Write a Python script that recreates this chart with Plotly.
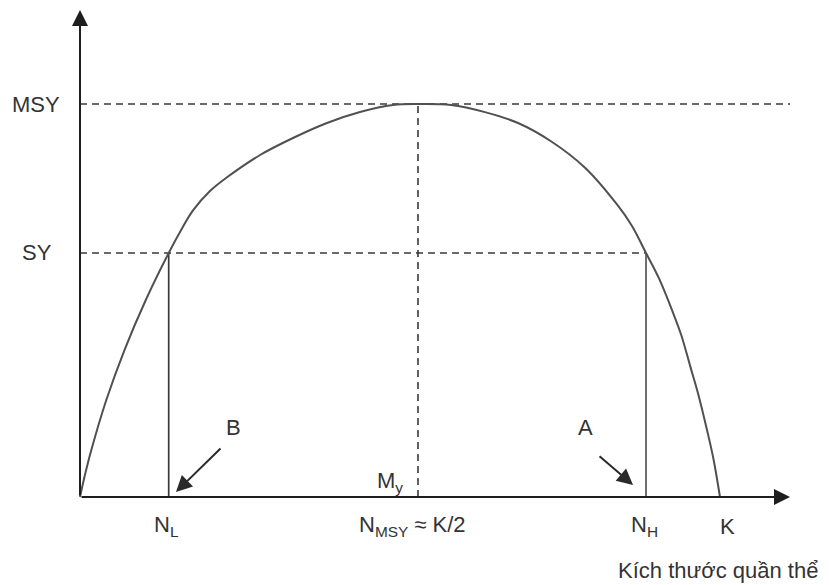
import plotly.graph_objects as go

# Curve (population size vs sustainable yield, K = 100, MSY = 100)
pop_size = [0, 0.77, 1.77, 4.11, 6.95, 10.28, 13.86, 15.78, 17.66, 20.31, 22.97, 28.13, 33.28,
            38.59, 43.75, 48.91, 52.81, 57.97, 63.28, 68.44, 73.59, 78.91, 84.06, 86.25,
            88.44, 90.47, 92.66, 93.98, 95.31, 96.64, 97.97, 98.98, 100]
yield_vals = [0, 5.60, 11.96, 24.68, 37.40, 50.13, 62.09, 67.89, 72.93, 77.86, 81.35, 87.02, 91.35,
              95.17, 97.96, 99.75, 100, 99.75, 97.94, 95.17, 90.53, 83.79, 74.12, 68.96,
              62.09, 55.62, 46.90, 41.04, 33.49, 25.90, 17.05, 9.67, 0]

N_L = 13.86
N_MSY = 52.81
N_H = 88.44
K = 100
MSY = 100
SY = 62.09

x_labels = ["N<sub>L</sub>", "N<sub>MSY</sub> ≈ K/2", "N<sub>H</sub>", "K"]
x_label_pos = [13.44, 51.88, 88.13, 101.1]
y_labels = ["MSY", "SY"]
y_label_pos = [MSY, SY]
x_title = "Kích thước quần thể"

X_MAX = 110.94
Y_MAX = 123.9

# page body has an 8px margin: figure occupies screen px 8..829 / 8..585
W, H = 821, 577
SX, SY_ = 6.4, 3.93
XR = [(8 - 80) / SX, (829 - 80) / SX]
YR = [(497 - 585) / SY_, (497 - 8) / SY_]

FONT = dict(family="Liberation Sans, Arial, sans-serif", size=22, color="#333333")
DASH = "7px,5px"
DCOL = "#3a3a3a"

fig = go.Figure()

# dashed guide lines
fig.add_trace(go.Scatter(x=[0, X_MAX], y=[MSY, MSY], mode="lines",
                         line=dict(color=DCOL, width=1.6, dash=DASH), hoverinfo="skip"))
fig.add_trace(go.Scatter(x=[0, N_H], y=[SY, SY], mode="lines",
                         line=dict(color=DCOL, width=1.6, dash=DASH), hoverinfo="skip"))
fig.add_trace(go.Scatter(x=[N_MSY, N_MSY], y=[0, MSY], mode="lines",
                         line=dict(color=DCOL, width=1.6, dash=DASH), hoverinfo="skip"))
# solid verticals
fig.add_trace(go.Scatter(x=[N_L, N_L], y=[0, SY], mode="lines",
                         line=dict(color="#3a3a3a", width=1.7), hoverinfo="skip"))
fig.add_trace(go.Scatter(x=[N_H, N_H], y=[0, SY], mode="lines",
                         line=dict(color="#555555", width=1.7), hoverinfo="skip"))
# yield curve
fig.add_trace(go.Scatter(x=pop_size, y=yield_vals, mode="lines",
                         line=dict(color="#505050", width=2, shape="spline", smoothing=1.0),
                         hoverinfo="skip"))

ann = []
# axes with arrows
ann.append(dict(x=X_MAX, y=0, ax=0, ay=0, xref="x", yref="y", axref="x", ayref="y",
                text="", showarrow=True, arrowhead=2, arrowsize=1.6, arrowwidth=2,
                arrowcolor="#1e1e1e"))
ann.append(dict(x=0, y=Y_MAX, ax=0, ay=0, xref="x", yref="y", axref="x", ayref="y",
                text="", showarrow=True, arrowhead=2, arrowsize=1.6, arrowwidth=2,
                arrowcolor="#1e1e1e"))
# B and A arrows
ann.append(dict(x=15.0, y=1.27, ax=22.19, ay=12.72, xref="x", yref="y", axref="x", ayref="y",
                text="", showarrow=True, arrowhead=2, arrowsize=1.6, arrowwidth=2,
                arrowcolor="#2a2a2a"))
ann.append(dict(x=86.41, y=3.05, ax=80.94, ay=10.69, xref="x", yref="y", axref="x", ayref="y",
                text="", showarrow=True, arrowhead=2, arrowsize=1.6, arrowwidth=2,
                arrowcolor="#2a2a2a"))
ann.append(dict(x=24.06, y=17.6, text="B", showarrow=False, font=FONT, xanchor="center", yanchor="middle"))
ann.append(dict(x=79.06, y=17.6, text="A", showarrow=False, font=FONT, xanchor="center", yanchor="middle"))
ann.append(dict(x=50.78, y=3.8, text="M<sub>y</sub>", showarrow=False, font=FONT,
                xanchor="right", yanchor="middle"))

ann.append(dict(x=-11.0, y=MSY, text=y_labels[0], showarrow=False, font=FONT,
                xanchor="left", yanchor="middle"))
ann.append(dict(x=-4.06, y=SY, text=y_labels[1], showarrow=False, font=FONT,
                xanchor="right", yanchor="middle"))
for t, p in zip(x_labels, x_label_pos):
    ann.append(dict(x=p, y=-7.4, text=t, showarrow=False, font=FONT, xanchor="center", yanchor="middle"))
ann.append(dict(x=99.69, y=-18.6, text=x_title, showarrow=False, font=FONT, xanchor="center", yanchor="middle"))

fig.update_layout(
    width=W, height=H,
    margin=dict(l=0, r=0, t=0, b=0),
    paper_bgcolor="white", plot_bgcolor="white",
    showlegend=False,
    xaxis=dict(range=XR, visible=False, fixedrange=True),
    yaxis=dict(range=YR, visible=False, fixedrange=True),
    annotations=ann,
)

fig.write_html("out.html")
